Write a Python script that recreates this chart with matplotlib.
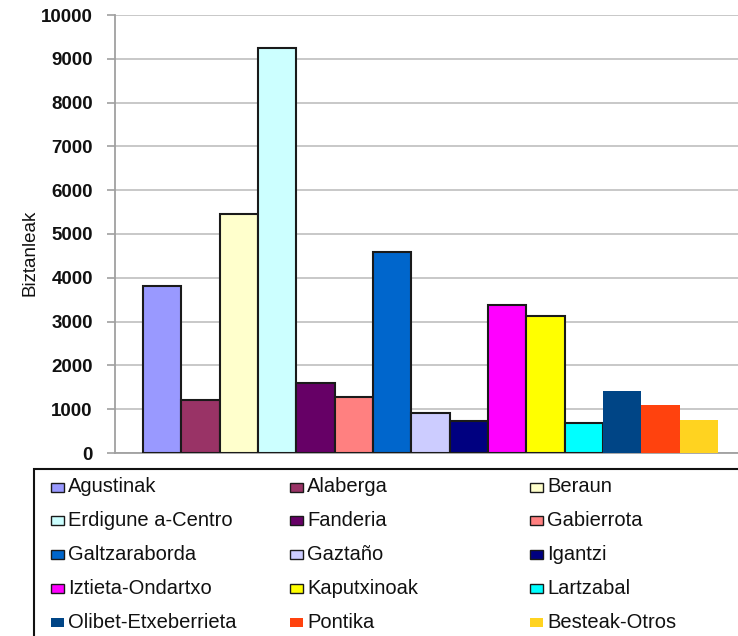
import matplotlib
matplotlib.use("Agg")
import matplotlib.pyplot as plt
from matplotlib.patches import Rectangle

plt.rcParams['font.family'] = ['Liberation Sans', 'DejaVu Sans']

# data
auzoak = ['Agustinak', 'Alaberga', 'Beraun', 'Erdigunea-Centro', 'Fanderia',
          'Gabierrota', 'Galtzaraborda', 'Gaztaño', 'Igantzi', 'Iztieta-Ondartxo',
          'Kaputxinoak', 'Lartzabal', 'Olibet-Etxeberrieta', 'Pontika', 'Besteak-Otros']
biztanleak = [3820, 1210, 5460, 9250, 1590, 1270, 4600, 905, 730, 3390,
              3135, 690, 1425, 1105, 745]
legend_labels = ['Agustinak', 'Alaberga', 'Beraun', 'Erdigune a-Centro', 'Fanderia',
                 'Gabierrota', 'Galtzaraborda', 'Gaztaño', 'Igantzi', 'Iztieta-Ondartxo',
                 'Kaputxinoak', 'Lartzabal', 'Olibet-Etxeberrieta', 'Pontika', 'Besteak-Otros']
yticks = [0, 1000, 2000, 3000, 4000, 5000, 6000, 7000, 8000, 9000, 10000]

# styles
kolore = ['#9999FF', '#993366', '#FFFFCC', '#CCFFFF', '#660066', '#FF8080',
          '#0066CC', '#CCCCFF', '#000080', '#FF00FF', '#FFFF00', '#00FFFF',
          '#004586', '#FF420E', '#FFD320']
ertza = ['#1a1a1a'] * 12 + ['none'] * 3

W, H = 738, 636
fig = plt.figure(figsize=(W / 100, H / 100), dpi=100)
ax = fig.add_axes([115 / W, 1 - 453 / H, 631 / W, 438 / H])

x = list(range(len(auzoak)))
for i in x:
    ax.bar(i, biztanleak[i], width=1.0, color=kolore[i], edgecolor=ertza[i],
           linewidth=1.5, zorder=3)

ax.set_xlim(-1.23, len(auzoak) - 1 + 1.23)
ax.set_ylim(0, 10000)
ax.set_yticks(yticks)
ax.set_yticklabels([str(v) for v in yticks], fontsize=13.5, fontweight='bold', color='#111111')
ax.set_xticks([])
ax.yaxis.grid(True, color='#c4c4c4', linewidth=1.3, zorder=0)
ax.tick_params(axis='y', length=6, width=1.2, color='#a0a0a0', pad=10)
for s in ['top', 'right']:
    ax.spines[s].set_visible(False)
for s in ['left', 'bottom']:
    ax.spines[s].set_color('#a0a0a0')
    ax.spines[s].set_linewidth(1.3)

ax.set_ylabel('Biztanleak', fontsize=13.5, color='#111111', va='center')
ax.yaxis.set_label_coords(-0.135, 0.457)

# legend box
fig.add_artist(Rectangle((34 / W, -0.1), 1.0, 0.1 + 1 - 469 / H, transform=fig.transFigure,
                         facecolor='white', edgecolor='#111111', linewidth=1.5))
col_x = [51, 290, 530]
for i, (lab, c) in enumerate(zip(legend_labels, kolore)):
    r, k = i // 3, i % 3
    yc = 487 + r * 33.8
    x0 = col_x[k]
    fig.add_artist(Rectangle((x0 / W, 1 - (yc + 4.5) / H), 13 / W, 9 / H,
                             transform=fig.transFigure, facecolor=c,
                             edgecolor=ertza[i], linewidth=1.0))
    fig.text((x0 + 17) / W, 1 - yc / H, lab, fontsize=14.5, va='center', ha='left',
             color='#111111')

fig.savefig('out.png', dpi=100)
